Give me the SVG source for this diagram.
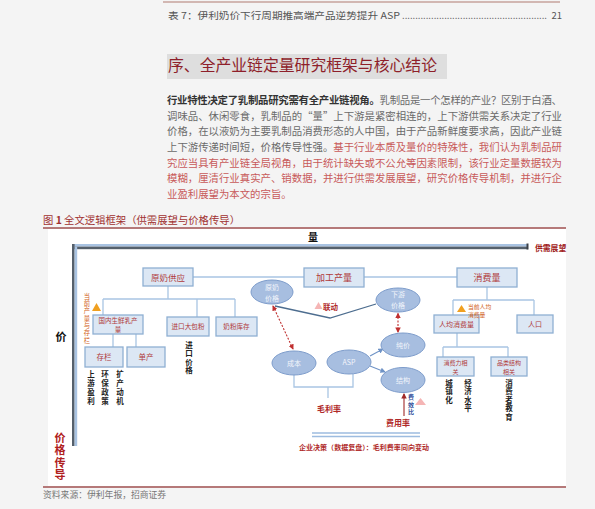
<svg xmlns="http://www.w3.org/2000/svg" width="595" height="509" viewBox="0 0 595 509">
<defs>
<style>
text{font-family:"Noto Sans CJK SC","Noto Sans",sans-serif}
.box{fill:#dce7f4;stroke:#8fb0d3;stroke-width:1.3}
.ell{fill:#a7bee0;stroke:#7d9ccb;stroke-width:1}
.ln{stroke:#a9c5e3;stroke-width:1.3;fill:none}
.bt{fill:#b03a3a;text-anchor:middle}
.et{fill:#f2f5fb;text-anchor:middle;font-size:7px}
.v{writing-mode:vertical-rl;text-orientation:upright}
.vt{font-size:7.5px;font-weight:bold;fill:#222;writing-mode:vertical-rl;text-orientation:upright}
.red{fill:#b02a2a;font-weight:bold}
.p{font-size:10.4px;fill:#6a6a6a}
.pr{fill:#c85a5a}
</style>
<marker id="ra" viewBox="0 0 6 6" refX="5" refY="3" markerWidth="5" markerHeight="5" orient="auto-start-reverse"><path d="M0,0L6,3L0,6z" fill="#c03030"/></marker>
<marker id="ba" viewBox="0 0 6 6" refX="5" refY="3" markerWidth="5" markerHeight="5" orient="auto"><path d="M0,0L6,3L0,6z" fill="#6f93c6"/></marker>
<marker id="da" viewBox="0 0 6 6" refX="5" refY="3" markerWidth="5" markerHeight="5" orient="auto"><path d="M0,0L6,3L0,6z" fill="#a02828"/></marker>
</defs>
<rect width="595" height="509" fill="#f4f4f4"/>
<!-- header -->
<line x1="163" y1="2" x2="560" y2="2" stroke="#b07a70" stroke-width="1"/>
<text x="168" y="19" font-size="9.5" fill="#555" textLength="232" lengthAdjust="spacingAndGlyphs">表 7：伊利奶价下行周期推高端产品逆势提升 ASP</text>
<text x="402" y="19" font-size="9.5" fill="#555" font-family="Liberation Sans" textLength="145" lengthAdjust="spacing">.......................................................</text>
<text x="562" y="19" font-size="9.5" fill="#555" text-anchor="end" font-family="Liberation Sans">21</text>
<!-- heading -->
<rect x="167" y="54" width="280" height="25" fill="#dedede"/>
<text x="168" y="71" font-size="16" fill="#8e1f2a" textLength="269" lengthAdjust="spacingAndGlyphs">序、全产业链定量研究框架与核心结论</text>
<!-- paragraph -->
<text class="p" x="167" y="104.2" textLength="395" lengthAdjust="spacing"><tspan font-weight="bold" fill="#333">行业特性决定了乳制品研究需有全产业链视角。</tspan>乳制品是一个怎样的产业？区别于白酒、</text>
<text class="p" x="167" y="119.8" textLength="395" lengthAdjust="spacing">调味品、休闲零食，乳制品的“量”上下游是紧密相连的，上下游供需关系决定了行业</text>
<text class="p" x="167" y="135.4" textLength="395" lengthAdjust="spacing">价格，在以液奶为主要乳制品消费形态的人中国，由于产品新鲜度要求高，因此产业链</text>
<text class="p" x="167" y="151" textLength="395" lengthAdjust="spacing">上下游传递时间短，价格传导性强。<tspan class="pr">基于行业本质及量价的特殊性，我们认为乳制品研</tspan></text>
<text class="p pr" x="167" y="166.6" textLength="395" lengthAdjust="spacing">究应当具有产业链全局视角，由于统计缺失或不公允等因素限制，该行业定量数据较为</text>
<text class="p pr" x="167" y="182.2" textLength="395" lengthAdjust="spacing">模糊，厘清行业真实产、销数据，并进行供需发展展望，研究价格传导机制，并进行企</text>
<text class="p pr" x="167" y="197.8">业盈利展望为本文的宗旨。</text>
<!-- figure caption -->
<text x="43" y="223.5" font-size="10" fill="#a03030" textLength="197" lengthAdjust="spacingAndGlyphs">图 <tspan font-weight="bold">1</tspan> 全文逻辑框架（供需展望与价格传导）</text>
<rect x="48" y="229" width="518" height="257" fill="#fff"/>
<line x1="43" y1="228" x2="566" y2="228" stroke="#a05050" stroke-width="1.3"/>
<line x1="43" y1="487" x2="566" y2="487" stroke="#a05050" stroke-width="1.3"/>
<text x="43" y="497.5" font-size="8.8" fill="#777">资料来源：伊利年报，招商证券</text>
<!-- axes -->
<g id="axes">
<rect x="72" y="244" width="456" height="2.6" fill="#a9c3e2"/>
<rect x="72" y="246.6" width="456" height="2.6" fill="#55606c"/>
<rect x="526.5" y="243.5" width="2" height="6" fill="#3a4048"/>
<rect x="72" y="244" width="2.6" height="202" fill="#55606c"/>
<rect x="74.6" y="246.6" width="2.6" height="199.4" fill="#a9c3e2"/>
<text x="313" y="241" font-size="10" font-weight="bold" fill="#111" text-anchor="middle">量</text>
<text x="61" y="341" font-size="11" font-weight="bold" fill="#111" text-anchor="middle">价</text>
<text x="535" y="251" font-size="7.8" font-weight="bold" fill="#a02020">供需展望</text>
<text class="v" x="60" y="432.5" font-size="11" font-weight="bold" fill="#b02020" letter-spacing="1.3">价格传导</text>
</g>
<!-- connectors -->
<g id="connectors">
<path class="ln" d="M193,277H304M364,277H457"/>
<path class="ln" d="M168,286V299M103,299H235M103,299V315M197,299V317M235,299V317"/>
<path class="ln" d="M113,334V347M136,334V347"/>
<path class="ln" d="M487,287V300M453,300H534M453,300V315M534,300V315"/>
<path class="ln" d="M457,333V347M443,347H508M443,347V357M508,347V357"/>
<polyline points="275,306 330,318 376,304" fill="none" stroke="#4d6d8f" stroke-width="1.3"/>
<line x1="273" y1="306" x2="293" y2="349" stroke="#c03030" stroke-width="1.1" stroke-dasharray="2,1.5" marker-start="url(#ra)" marker-end="url(#ra)"/>
<line x1="398" y1="313.5" x2="398" y2="332" stroke="#c03030" stroke-width="1.1" stroke-dasharray="2,1.5" marker-start="url(#ra)" marker-end="url(#ra)"/>
<line x1="370" y1="356" x2="383" y2="349" stroke="#6f93c6" stroke-width="1.1" marker-end="url(#ba)"/>
<line x1="370" y1="366" x2="385" y2="372" stroke="#6f93c6" stroke-width="1.1" marker-end="url(#ba)"/>
<path class="ln" d="M294,375V387H353V374M328,387V398"/>
<line x1="404" y1="416" x2="404" y2="394" stroke="#a02828" stroke-width="1.1" marker-end="url(#da)"/>
<path d="M312,433H420M312,436.5H420" stroke="#9dbce0" stroke-width="1.3" fill="none"/>
</g>
<!-- top-level boxes -->
<g id="n-yuannai-gongying"><rect class="box" x="143" y="268" width="50" height="18"/><text class="bt" x="168" y="280.5" font-size="8.5">原奶供应</text></g>
<g id="n-jiagong-chanliang"><rect class="box" x="304" y="268" width="60" height="19"/><text class="bt" x="334" y="281" font-size="9">加工产量</text></g>
<g id="n-xiaofeiliang"><rect class="box" x="457" y="268" width="60" height="19"/><text class="bt" x="487" y="281" font-size="9">消费量</text></g>
<!-- supply side -->
<g id="n-guonei"><rect class="box" x="93" y="315" width="50" height="19"/><text class="bt" x="118" y="322.5" font-size="6.5">国内生鲜乳产</text><text class="bt" x="118" y="331.5" font-size="6.5">量</text></g>
<g id="n-jinkou"><rect class="box" x="167" y="317" width="42" height="19"/><text class="bt" x="188" y="329" font-size="6.6">进口大包粉</text></g>
<g id="n-kucun"><rect class="box" x="216" y="317" width="41" height="19"/><text class="bt" x="236.5" y="329" font-size="6.6">奶粉库存</text></g>
<g id="n-cunlan"><rect class="box" x="85" y="347" width="38" height="20"/><text class="bt" x="104" y="360" font-size="7.5">存栏</text></g>
<g id="n-danchan"><rect class="box" x="127" y="347" width="38" height="20"/><text class="bt" x="146" y="360" font-size="7.5">单产</text></g>
<!-- demand side -->
<g id="n-renjun"><rect class="box" x="434" y="315" width="45" height="18"/><text class="bt" x="456.5" y="326.5" font-size="7">人均消费量</text></g>
<g id="n-renkou"><rect class="box" x="517" y="315" width="36" height="18"/><text class="bt" x="535" y="326.5" font-size="7">人口</text></g>
<g id="n-xiaofeili"><rect class="box" x="437" y="357" width="37" height="19"/><text class="bt" x="455.5" y="364.5" font-size="6">消费力相</text><text class="bt" x="455.5" y="373.5" font-size="6">关</text></g>
<g id="n-pinlei"><rect class="box" x="491" y="357" width="36" height="19"/><text class="bt" x="509" y="364.5" font-size="6">品类结构</text><text class="bt" x="509" y="373.5" font-size="6">相关</text></g>
<!-- ellipses -->
<g id="n-yuannai-jiage"><ellipse class="ell" cx="272" cy="292" rx="21" ry="12"/><text class="et" x="272" y="290">原奶</text><text class="et" x="272" y="300.5">价格</text></g>
<g id="n-xiayou-jiage"><ellipse class="ell" cx="398" cy="300" rx="22" ry="12"/><text class="et" x="398" y="297">下游</text><text class="et" x="398" y="307.5">价格</text></g>
<g id="n-chengben"><ellipse class="ell" cx="294" cy="363" rx="22" ry="12"/><text class="et" x="294" y="365.5">成本</text></g>
<g id="n-asp"><ellipse class="ell" cx="349" cy="362" rx="22" ry="12"/><text class="et" x="349" y="364.5" font-family="Liberation Serif">ASP</text></g>
<g id="n-chunjia"><ellipse class="ell" cx="403" cy="345" rx="22" ry="12"/><text class="et" x="403" y="347.5">纯价</text></g>
<g id="n-jiegou"><ellipse class="ell" cx="403" cy="380" rx="22" ry="12.5"/><text class="et" x="403" y="382.5">结构</text></g>
<!-- annotations -->
<g id="labels">
<polygon points="92,311 96.5,303 101,311" fill="#f0a020"/>
<text class="v" x="87" y="293.3" font-size="6.3" fill="#d06020" letter-spacing="1">当前产量与存栏</text>
<polygon points="457,312 461.5,305 466,312" fill="#f0a020"/>
<text x="468" y="309" font-size="5.8" fill="#d06020">当前人均</text>
<text x="468" y="317" font-size="5.8" fill="#d06020">消费量</text>
<polygon points="314.5,309 318.5,302 322.5,309" fill="#f5b5b5"/>
<text class="red" x="323" y="309.5" font-size="7.5">联动</text>
<text class="red" x="329" y="411.5" font-size="8" text-anchor="middle">毛利率</text>
<text class="red" x="398" y="425.5" font-size="8" text-anchor="middle">费用率</text>
<text class="v" x="411" y="394" font-size="6" fill="#2e4d9a" font-weight="bold" letter-spacing="1.5">费效比</text>
<polygon points="415,405 420.5,398 426,405" fill="#f5b5b5"/>
<text class="red" x="299" y="449.5" font-size="6.8" textLength="130" lengthAdjust="spacingAndGlyphs">企业决策（数据复盘）：毛利费率同向变动</text>
<text class="vt" x="91" y="370.5" letter-spacing="1.5">上游盈利</text>
<text class="vt" x="105" y="370.5" letter-spacing="1.5">环保政策</text>
<text class="vt" x="120" y="370.5" letter-spacing="1.5">扩产动机</text>
<text class="vt" x="189" y="341.5" letter-spacing="0.8">进口价格</text>
<text class="vt" x="449" y="379.3" letter-spacing="1">城镇化</text>
<text class="vt" x="468" y="379.3" letter-spacing="1">经济水平</text>
<text class="vt" x="509" y="379.3" letter-spacing="1">消费者教育</text>
</g>
</svg>
